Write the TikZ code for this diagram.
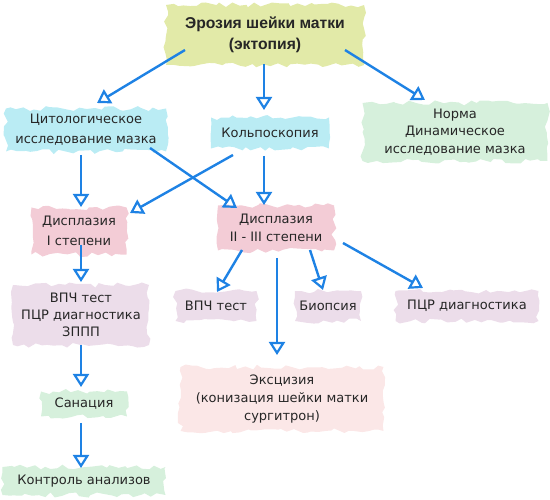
\documentclass[tikz,border=0pt]{standalone}
\usepackage{fontspec}
\setmainfont{DejaVu Sans}
\newfontfamily\titlefont{Liberation Sans}
\usetikzlibrary{arrows.meta,calc,decorations.pathmorphing}
\definecolor{arrowblue}{RGB}{30,130,228}
\definecolor{cyanblob}{RGB}{186,236,244}
\definecolor{greenblob}{RGB}{214,240,220}
\definecolor{pinkblob}{RGB}{243,204,214}
\definecolor{lavblob}{RGB}{236,221,234}
\definecolor{lightpink}{RGB}{251,231,231}
\definecolor{yellowblob}{RGB}{226,234,168}
\begin{document}
\begin{tikzpicture}[x=1pt,y=-1pt,
  blob/.style={fill=#1, decorate, decoration={random steps,segment length=6pt,amplitude=2.6pt},
    inner sep=0pt, align=center, text=black!85,
    font=\fontsize{13}{19}\selectfont},
  conn/.style={draw=arrowblue, line width=2.4pt,
    -{Triangle[open,length=13pt,width=16pt,line width=2.2pt]}}]
\useasboundingbox (0,0) rectangle (550,500);
\pgfmathsetseed{11}
% nodes
\node[blob=yellowblob, minimum width=198pt, minimum height=60pt,
  font=\titlefont\bfseries\fontsize{15.7}{21}\selectfont] (title) at (265,35) {Эрозия шейки матки\\(эктопия)};
\node[blob=cyanblob, minimum width=160pt, minimum height=43pt, font=\fontsize{13}{20}\selectfont] (cito) at (86,130) {Цитологическое\\исследование мазка};
\node[blob=cyanblob, minimum width=118pt, minimum height=31pt] (kolpo) at (270,133) {Кольпоскопия};
\node[blob=greenblob, minimum width=185pt, minimum height=58pt, font=\fontsize{13}{17.5}\selectfont] (norma) at (455,132) {Норма\\Динамическое\\исследование мазка};
\node[blob=pinkblob, minimum width=95pt, minimum height=47pt, font=\fontsize{13}{20}\selectfont] (d1) at (79,231) {Дисплазия\\I степени};
\node[blob=pinkblob, minimum width=116pt, minimum height=45pt, font=\fontsize{13}{18}\selectfont] (d2) at (276,228) {Дисплазия\\II - III степени};
\node[blob=lavblob, minimum width=136pt, minimum height=60pt, font=\fontsize{13}{17}\selectfont] (vpch1) at (81,315) {ВПЧ тест\\ПЦР диагностика\\ЗППП};
\node[blob=lavblob, minimum width=81pt, minimum height=30pt] (vpch2) at (216,306) {ВПЧ тест};
\node[blob=lavblob, minimum width=66pt, minimum height=30pt] (biopsy) at (328,306) {Биопсия};
\node[blob=lavblob, minimum width=143pt, minimum height=30pt] (pcr) at (467,306) {ПЦР диагностика};
\node[blob=lightpink, minimum width=203pt, minimum height=64pt, font=\fontsize{13}{18}\selectfont] (excision) at (282,399) {Эксцизия\\(конизация шейки матки\\сургитрон)};
\node[blob=greenblob, minimum width=86pt, minimum height=25pt] (san) at (84,404) {Санация};
\node[blob=greenblob, minimum width=163pt, minimum height=28pt] (control) at (84,481) {Контроль анализов};
% connectors
\draw[conn] ($(title)+(-80,15)$) -- ($(cito)+(11,-27)$);
\draw[conn] ($(title)+(-1,29)$) -- ($(kolpo)+(-6,-23)$);
\draw[conn] ($(title)+(80,15)$) -- ($(norma)+(-30,-32)$);
\draw[conn] ($(cito)+(-5,25)$) -- ($(d1)+(2,-24)$);
\draw[conn] ($(cito)+(64,18)$) -- ($(d2)+(-39,-20)$);
\draw[conn] ($(kolpo)+(-37,22)$) -- ($(d1)+(51,-18)$);
\draw[conn] ($(kolpo)+(-6,23)$) -- ($(d2)+(-12,-23)$);
\draw[conn] ($(d1)+(2,14)$) -- ($(vpch1)+(0,-33)$);
\draw[conn] ($(vpch1)+(0,30)$) -- ($(san)+(-3,-17)$);
\draw[conn] ($(san)+(-3,19)$) -- ($(control)+(-3,-13)$);
\draw[conn] ($(d2)+(-34,22)$) -- ($(vpch2)+(1,-14)$);
\draw[conn] ($(d2)+(1,30)$) -- ($(excision)+(-5,-44)$);
\draw[conn] ($(d2)+(34,22)$) -- ($(biopsy)+(-5,-16)$);
\draw[conn] ($(d2)+(67,15)$) -- ($(pcr)+(-44,-18)$);
\end{tikzpicture}
\end{document}
